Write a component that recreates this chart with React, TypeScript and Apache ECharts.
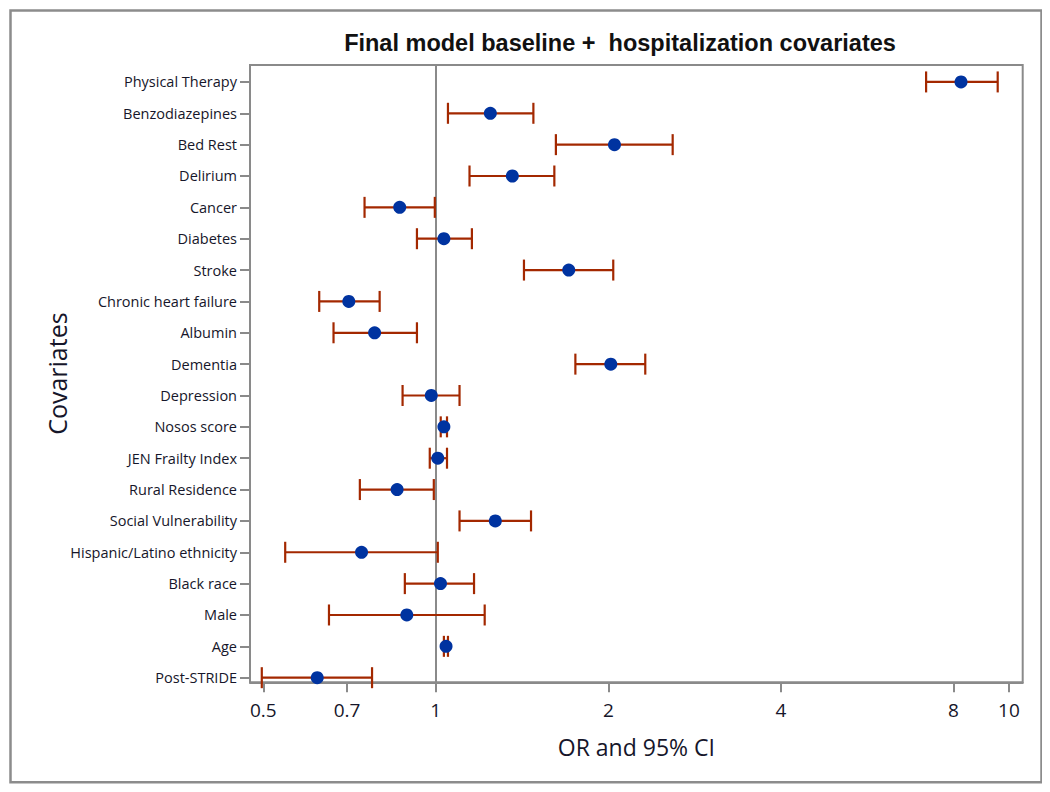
import React, { useEffect, useRef } from "react";
import * as echarts from "echarts";

const categories = [
  "Physical Therapy",
  "Benzodiazepines",
  "Bed Rest",
  "Delirium",
  "Cancer",
  "Diabetes",
  "Stroke",
  "Chronic heart failure",
  "Albumin",
  "Dementia",
  "Depression",
  "Nosos score",
  "JEN Frailty Index",
  "Rural Residence",
  "Social Vulnerability",
  "Hispanic/Latino ethnicity",
  "Black race",
  "Male",
  "Age",
  "Post-STRIDE",
];
const oddsRatios = [8.25, 1.245, 2.05, 1.36, 0.865, 1.033, 1.706, 0.705, 0.782, 2.02, 0.982, 1.033, 1.008, 0.856, 1.27, 0.742, 1.019, 0.89, 1.042, 0.621];
const ciLower = [7.17, 1.05, 1.62, 1.145, 0.751, 0.927, 1.425, 0.626, 0.663, 1.752, 0.875, 1.02, 0.976, 0.737, 1.1, 0.546, 0.883, 0.651, 1.033, 0.497];
const ciUpper = [9.56, 1.48, 2.59, 1.61, 0.996, 1.156, 2.04, 0.798, 0.927, 2.32, 1.1, 1.046, 1.046, 0.992, 1.466, 1.008, 1.166, 1.217, 1.05, 0.774];
const xTickValues = [0.5, 0.7, 1, 2, 4, 8, 10];
const xMin = 0.474;
const xMax = 10.57;

const FONT = "'Open Sans', 'Liberation Sans', sans-serif";

export default function App() {
  const ref = useRef<HTMLDivElement>(null);
  useEffect(() => {
    if (!ref.current) return;
    const chart = echarts.init(ref.current, undefined, { renderer: "svg" });
    const n = categories.length;
    const yIdx = categories.map((_, i) => n - 1 - i);
    const pointData = categories.map((_, i) => [Math.log10(oddsRatios[i]), yIdx[i]]);
    const ciData = categories.map((_, i) => [Math.log10(ciLower[i]), Math.log10(ciUpper[i]), yIdx[i]]);
    const lineColor = "#8a8a8a";
    const ciColor = "#a32800";
    const textColor = "#16162a";

    chart.setOption({
      animation: false,
      backgroundColor: "#ffffff",
      textStyle: { fontFamily: FONT },
      graphic: [
        {
          type: "rect",
          shape: { x: 2.5, y: 2.5, width: 1031, height: 771.7 },
          style: { fill: "none", stroke: "#8c8c8c", lineWidth: 2.5 },
          silent: true,
        },
        {
          type: "text",
          x: 612,
          y: 35,
          style: {
            text: "Final model baseline +  hospitalization covariates",
            font: "bold 23.5px 'Liberation Sans', Arial, sans-serif",
            fill: "#111",
            align: "center",
            verticalAlign: "middle",
          },
        },
      ],
      grid: {
        left: 242,
        right: 19.3,
        top: 57,
        bottom: 101.7,
        show: true,
        borderColor: lineColor,
        borderWidth: 2,
        backgroundColor: "transparent",
      },
      xAxis: {
        type: "value",
        min: Math.log10(xMin),
        max: Math.log10(xMax),
        name: "OR and 95% CI",
        nameLocation: "middle",
        nameGap: 53,
        nameTextStyle: { fontSize: 23, color: textColor, fontFamily: FONT },
        axisLine: { show: true, onZero: false, lineStyle: { color: lineColor, width: 2 } },
        axisTick: {
          show: true,
          length: 10,
          lineStyle: { color: lineColor, width: 2 },
          customValues: xTickValues.map((v) => Math.log10(v)),
        },
        axisLabel: {
          fontSize: 19,
          color: textColor,
          margin: 18,
          customValues: xTickValues.map((v) => Math.log10(v)),
          formatter: (v: number) => String(+Math.pow(10, v).toFixed(1)),
        },
        splitLine: { show: false },
      },
      yAxis: {
        type: "value",
        min: -0.147,
        max: 19.54,
        name: "Covariates",
        nameLocation: "middle",
        nameGap: 181,
        nameRotate: 90,
        nameMoveOverlap: false,
        nameTextStyle: { fontSize: 25, color: textColor, fontFamily: FONT },
        axisLine: { show: true, onZero: false, lineStyle: { color: lineColor, width: 2 } },
        axisTick: {
          show: true,
          length: 10,
          lineStyle: { color: lineColor, width: 2 },
          customValues: yIdx,
        },
        axisLabel: {
          fontSize: 14.5,
          color: textColor,
          margin: 13,
          customValues: yIdx,
          formatter: (v: number) => categories[n - 1 - Math.round(v)] ?? "",
        },
        splitLine: { show: false },
      },
      series: [
        {
          type: "custom",
          z: 3,
          data: ciData,
          encode: { x: [0, 1], y: 2 },
          renderItem: (params: any, api: any) => {
            const y = api.value(2);
            const p1 = api.coord([api.value(0), y]);
            const p2 = api.coord([api.value(1), y]);
            const h = 10.5;
            const style = { stroke: ciColor, lineWidth: 2.2, fill: "none" };
            return {
              type: "group",
              children: [
                { type: "line", shape: { x1: p1[0], y1: p1[1], x2: p2[0], y2: p2[1] }, style },
                { type: "line", shape: { x1: p1[0], y1: p1[1] - h, x2: p1[0], y2: p1[1] + h }, style },
                { type: "line", shape: { x1: p2[0], y1: p2[1] - h, x2: p2[0], y2: p2[1] + h }, style },
              ],
            };
          },
        },
        {
          type: "scatter",
          z: 4,
          data: pointData,
          symbol: "circle",
          symbolSize: 13,
          itemStyle: { color: "#0033a0", opacity: 1 },
          markLine: {
            silent: true,
            symbol: ["none", "none"],
            label: { show: false },
            lineStyle: { color: lineColor, width: 2, type: "solid" },
            data: [{ xAxis: 0 }],
            z: 1,
          },
        },
      ],
    });
    return () => chart.dispose();
  }, []);
  return <div ref={ref} style={{ width: 1034, height: 776 }} />;
}
